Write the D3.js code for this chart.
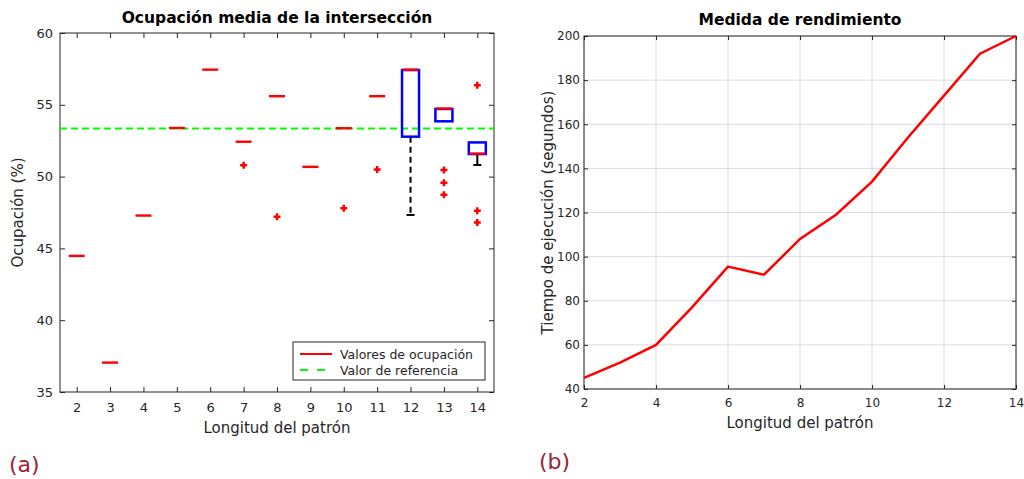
<!DOCTYPE html>
<html>
<head>
<meta charset="utf-8">
<script src="https://cdn.jsdelivr.net/npm/d3@7"></script>
<style>
body { margin: 0; background: #fff; }
text { font-family: "DejaVu Sans", sans-serif; fill: #262626; }
</style>
</head>
<body>
<div id="chart"></div>
<script>
// (a) box plot data
var lengths = [2, 3, 4, 5, 6, 7, 8, 9, 10, 11, 12, 13, 14];
var boxLow = [44.45, 37.02, 47.26, 53.36, 57.42, 52.40, 55.57, 50.65, 53.34, 55.57, 52.78, 53.85, 51.57];
var boxHigh = [44.45, 37.02, 47.26, 53.36, 57.42, 52.40, 55.57, 50.65, 53.34, 55.57, 57.42, 54.71, 52.38];
var medians = [44.45, 37.02, 47.26, 53.36, 57.42, 52.40, 55.57, 50.65, 53.34, 55.57, 57.42, 54.71, 51.57];
var whiskerLow = [44.45, 37.02, 47.26, 53.36, 57.42, 52.40, 55.57, 50.65, 53.34, 55.57, 47.33, 53.85, 50.81];
var outliers = [[], [], [], [], [], [50.79], [47.21], [], [47.79], [50.5], [], [50.46, 49.58, 48.74], [56.36, 47.62, 46.81]];
var referenceValue = 53.35;
var occTicks = [35, 40, 45, 50, 55, 60];

// (b) line data
var times = [45, 52, 60, 77, 95.5, 91.8, 108, 119, 134, 154, 173, 192, 200];
var timeTicks = [40, 60, 80, 100, 120, 140, 160, 180, 200];
var lenTicks = [2, 4, 6, 8, 10, 12, 14];

var svg = d3.select("#chart").append("svg")
    .attr("width", 1024)
    .attr("height", 479);

// ---------- left chart ----------
var marginA = {left: 60, top: 33};
var widthA = 434, heightA = 359;
var gA = svg.append("g").attr("transform", `translate(${marginA.left}, ${marginA.top})`);

var xA = d3.scaleLinear().domain([1.5, 14.5]).range([0, widthA]);
var yA = d3.scaleLinear().domain([35, 60]).range([heightA, 0]);
var boxW = 17;

function styleAxis(g, size) {
    g.select(".domain").remove();
    g.selectAll("line").attr("stroke", "#262626");
    g.selectAll("text").style("font-size", size + "px").attr("fill", "#262626");
}

gA.append("g").attr("transform", `translate(0, ${heightA})`)
    .call(d3.axisBottom(xA).tickValues(lengths).tickSize(-5).tickPadding(11))
    .call(g => styleAxis(g, 13));
gA.append("g")
    .call(d3.axisTop(xA).tickValues(lengths).tickSize(-5).tickFormat(""))
    .call(g => styleAxis(g, 13));
gA.append("g")
    .call(d3.axisLeft(yA).tickValues(occTicks).tickSize(-5).tickPadding(7))
    .call(g => styleAxis(g, 13));
gA.append("g").attr("transform", `translate(${widthA}, 0)`)
    .call(d3.axisRight(yA).tickValues(occTicks).tickSize(-5).tickFormat(""))
    .call(g => styleAxis(g, 13));

gA.append("rect")
    .attr("width", widthA).attr("height", heightA)
    .attr("fill", "none").attr("stroke", "#262626").attr("stroke-width", 1);

// reference line
gA.append("line")
    .attr("x1", 0).attr("x2", widthA)
    .attr("y1", yA(referenceValue)).attr("y2", yA(referenceValue))
    .attr("stroke", "#00ff00").attr("stroke-width", 2)
    .attr("stroke-dasharray", "7,4");

lengths.forEach(function(d, i) {
    var cx = xA(d);
    // whisker
    if (whiskerLow[i] < boxLow[i]) {
        gA.append("line")
            .attr("x1", cx).attr("x2", cx)
            .attr("y1", yA(boxLow[i])).attr("y2", yA(whiskerLow[i]))
            .attr("stroke", "#000").attr("stroke-width", 2)
            .attr("stroke-dasharray", i == 12 ? null : "6,4");
        gA.append("line")
            .attr("x1", cx - 4).attr("x2", cx + 4)
            .attr("y1", yA(whiskerLow[i])).attr("y2", yA(whiskerLow[i]))
            .attr("stroke", "#000").attr("stroke-width", 2);
    }
    gA.append("rect")
        .attr("x", cx - boxW / 2)
        .attr("y", yA(boxHigh[i]))
        .attr("width", boxW)
        .attr("height", yA(boxLow[i]) - yA(boxHigh[i]))
        .attr("fill", "none").attr("stroke", "#0000ff").attr("stroke-width", 2.5);
    gA.append("line")
        .attr("x1", cx - boxW / 2 + 0.5).attr("x2", cx + boxW / 2 - 0.5)
        .attr("y1", yA(medians[i]) - 0.4).attr("y2", yA(medians[i]) - 0.4)
        .attr("stroke", "#ff0000").attr("stroke-width", 2.4);
    outliers[i].forEach(function(o) {
        gA.append("path")
            .attr("d", `M${cx - 3.5},${yA(o)}H${cx + 3.5}M${cx},${yA(o) - 3.5}V${yA(o) + 3.5}`)
            .attr("stroke", "#ff0000").attr("stroke-width", 2.5);
    });
});

// legend
var leg = gA.append("g").attr("transform", "translate(233, 309)");
leg.append("rect").attr("width", 192).attr("height", 38)
    .attr("fill", "#fff").attr("stroke", "#262626").attr("stroke-width", 1);
leg.append("line").attr("x1", 7).attr("x2", 39).attr("y1", 12).attr("y2", 12)
    .attr("stroke", "#ff0000").attr("stroke-width", 2);
leg.append("line").attr("x1", 7).attr("x2", 39).attr("y1", 28).attr("y2", 28)
    .attr("stroke", "#00ff00").attr("stroke-width", 2).attr("stroke-dasharray", "8,9");
leg.append("text").attr("x", 47).attr("y", 16.5).style("font-size", "12.5px").text("Valores de ocupación");
leg.append("text").attr("x", 47).attr("y", 33).style("font-size", "12.5px").text("Valor de referencia");

gA.append("text").attr("x", widthA / 2).attr("y", -10)
    .attr("text-anchor", "middle").style("font-size", "15.5px").style("font-weight", "bold")
    .style("fill", "#000").text("Ocupación media de la intersección");
gA.append("text").attr("x", widthA / 2).attr("y", heightA + 41)
    .attr("text-anchor", "middle").style("font-size", "15px").text("Longitud del patrón");
gA.append("text").attr("transform", `translate(-37, ${heightA / 2}) rotate(-90)`)
    .attr("text-anchor", "middle").style("font-size", "15px").text("Ocupación (%)");

// ---------- right chart ----------
var marginB = {left: 584, top: 36};
var widthB = 432, heightB = 353;
var gB = svg.append("g").attr("transform", `translate(${marginB.left}, ${marginB.top})`);

var xB = d3.scaleLinear().domain([2, 14]).range([0, widthB]);
var yB = d3.scaleLinear().domain([40, 200]).range([heightB, 0]);

// grid
gB.selectAll(".gx").data(lenTicks).enter().append("line")
    .attr("x1", d => xB(d)).attr("x2", d => xB(d)).attr("y1", 0).attr("y2", heightB)
    .attr("stroke", "#dcdcdc").attr("stroke-width", 1);
gB.selectAll(".gy").data(timeTicks).enter().append("line")
    .attr("x1", 0).attr("x2", widthB).attr("y1", d => yB(d)).attr("y2", d => yB(d))
    .attr("stroke", "#dcdcdc").attr("stroke-width", 1);

gB.append("g").attr("transform", `translate(0, ${heightB})`)
    .call(d3.axisBottom(xB).tickValues(lenTicks).tickSize(-4).tickPadding(9))
    .call(g => styleAxis(g, 12));
gB.append("g")
    .call(d3.axisTop(xB).tickValues(lenTicks).tickSize(-4).tickFormat(""))
    .call(g => styleAxis(g, 12));
gB.append("g")
    .call(d3.axisLeft(yB).tickValues(timeTicks).tickSize(-4).tickPadding(4))
    .call(g => styleAxis(g, 12));
gB.append("g").attr("transform", `translate(${widthB}, 0)`)
    .call(d3.axisRight(yB).tickValues(timeTicks).tickSize(-4).tickFormat(""))
    .call(g => styleAxis(g, 12));

gB.append("rect")
    .attr("width", widthB).attr("height", heightB)
    .attr("fill", "none").attr("stroke", "#262626").attr("stroke-width", 1);

var line = d3.line().x((d, i) => xB(lengths[i])).y(d => yB(d));
gB.append("path").datum(times)
    .attr("d", line).attr("fill", "none")
    .attr("stroke", "#ff0000").attr("stroke-width", 2.5);

gB.append("text").attr("x", widthB / 2).attr("y", -11)
    .attr("text-anchor", "middle").style("font-size", "15.5px").style("font-weight", "bold")
    .style("fill", "#000").text("Medida de rendimiento");
gB.append("text").attr("x", widthB / 2).attr("y", heightB + 39)
    .attr("text-anchor", "middle").style("font-size", "15px").text("Longitud del patrón");
gB.append("text").attr("transform", `translate(-31, ${heightB / 2}) rotate(-90)`)
    .attr("text-anchor", "middle").style("font-size", "15px").text("Tiempo de ejecución (segundos)");

// panel labels
svg.append("text").attr("x", 9).attr("y", 472).style("font-size", "22px")
    .style("fill", "#9b2335").text("(a)");
svg.append("text").attr("x", 539).attr("y", 469).style("font-size", "22px")
    .style("fill", "#9b2335").text("(b)");
</script>
</body>
</html>
